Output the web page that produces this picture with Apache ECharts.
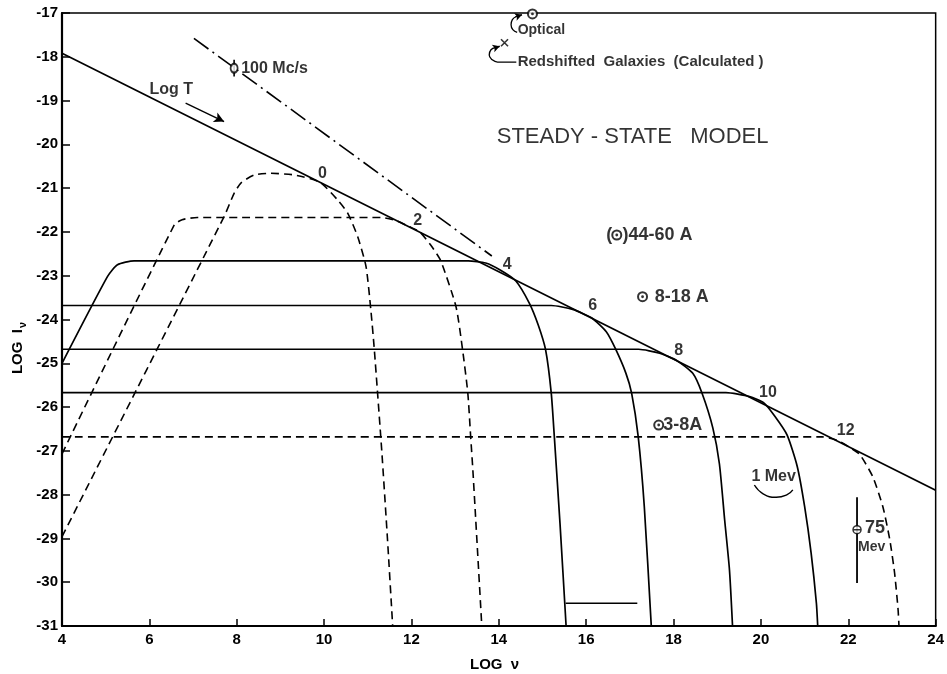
<!DOCTYPE html>
<html><head><meta charset="utf-8">
<script src="https://cdn.jsdelivr.net/npm/echarts@6/dist/echarts.min.js"></script>
<style>html,body{margin:0;padding:0;background:#fff}#c{width:947px;height:674px}</style>
</head><body><div id="c"></div>
<script>
// ---- axis ticks ----
const xTicks = [4,6,8,10,12,14,16,18,20,22,24];
const yTicks = [-31,-30,-29,-28,-27,-26,-25,-24,-23,-22,-21,-20,-19,-18,-17];
const xAxisTitle = 'LOG  ν';
const yAxisTitle = ['LOG  I', 'ν'];

// ---- lines ----
const envelopeLogT = [[4,-17.92],[24,-27.9]];
const radioLine100 = [[7.02,-17.58],[13.84,-22.55]];

const curve0 = [[4,-28.96],[7.71,-21.65],[7.94,-21.12],[8.1,-20.88],[8.4,-20.70],[8.78,-20.66],[9.32,-20.70],[9.9,-20.86],[10.31,-21.27],[10.54,-21.57],[10.77,-22.11],[10.96,-22.79],[11.07,-23.78],[11.15,-24.69],[11.32,-27.0],[11.45,-29.0],[11.57,-31]];
const curve2 = [[4,-27.07],[6.57,-21.84],[6.75,-21.72],[7.10,-21.67],[11.3,-21.67],[11.64,-21.74],[11.95,-21.88],[12.18,-21.99],[12.44,-22.30],[12.67,-22.66],[13.02,-23.71],[13.17,-24.69],[13.29,-25.68],[13.355,-26.67],[13.41,-27.51],[13.61,-31]];
const curve4 = [[4,-25.0],[5.04,-23.02],[5.27,-22.75],[5.65,-22.66],[13.3,-22.66],[13.7,-22.71],[14.05,-22.88],[14.39,-23.12],[14.70,-23.63],[14.90,-24.12],[15.07,-24.69],[15.20,-25.68],[15.27,-26.67],[15.40,-28.65],[15.54,-31]];
const curve6 = [[4,-23.68],[15.2,-23.68],[15.69,-23.77],[16.12,-23.96],[16.46,-24.28],[16.68,-24.69],[16.91,-25.23],[17.04,-25.68],[17.19,-26.67],[17.33,-28.27],[17.49,-31]];
const curve8 = [[4,-24.68],[17.2,-24.68],[17.68,-24.77],[18.08,-24.94],[18.44,-25.23],[18.65,-25.68],[18.90,-26.48],[19.05,-27.3],[19.17,-28.58],[19.28,-29.72],[19.35,-31]];
const curve10 = [[4,-25.67],[19.2,-25.67],[19.74,-25.76],[20.06,-25.90],[20.31,-26.20],[20.6,-26.64],[20.83,-27.35],[21.00,-28.27],[21.15,-29.34],[21.27,-30.48],[21.30,-31]];
const curve12 = [[4,-26.68],[21.4,-26.68],[21.75,-26.76],[22.03,-26.92],[22.26,-27.08],[22.56,-27.59],[22.79,-28.27],[22.95,-29.03],[23.06,-29.79],[23.14,-30.63],[23.16,-31]];

const bottomSegment = [[15.53,-30.48],[17.17,-30.48]];
const mevBracket = [[19.85,-27.78],[20.05,-27.98],[20.35,-28.06],[20.6,-28.0],[20.73,-27.89]];
const errorBar100 = [[7.94,-18.07],[7.94,-18.45]];
const errorBar75 = [[22.20,-28.06],[22.20,-30.02]];
const opticalHook = [[14.42,-17.44],[14.32,-17.38],[14.28,-17.27],[14.31,-17.15],[14.40,-17.08]];
const galaxyHook = [[14.40,-18.12],[13.97,-18.12],[13.84,-18.06],[13.78,-17.96],[13.82,-17.84],[13.92,-17.79]];

// ---- observed points ----
const dotCircles = [[16.70,-22.07],[17.29,-23.48],[17.66,-26.41],[14.77,-17.02]];
const point100 = [[7.94,-18.26]];
const point75 = [[22.20,-28.80]];
const galaxyCross = [[14.13,-17.68]];

// ---- arrows ----
const logTArrow = [[6.83,-19.06],[7.71,-19.48]];
const opticalArrowHead = [[14.38,-17.09],[14.53,-17.04]];
const galaxyArrowHead = [[13.90,-17.80],[14.02,-17.76]];

// ---- texts ----
const curveLabels = [[9.96,-20.66,'0'],[12.14,-21.73,'2'],[14.19,-22.75,'4'],[16.15,-23.69,'6'],[18.12,-24.72,'8'],[20.16,-25.66,'10'],[21.94,-26.54,'12']];
const titleText = [[13.94,-19.82,'STEADY - STATE   MODEL']];
const notesBig = [[16.45,-22.07,'('],[16.82,-22.07,')44-60 A'],[17.56,-23.48,'8-18 A'],[17.75,-26.41,'3-8A'],[22.37,-28.76,'75']];
const notesMid = [[5.99,-18.76,'Log T'],[8.09,-18.26,'100 Mc/s'],[19.77,-27.59,'1 Mev']];
const notesSmall = [[14.42,-17.40,'Optical'],[22.21,-29.19,'Mev']];
const notesWide = [[14.42,-18.11,'Redshifted  Galaxies  (Calculated )']];

const FONT = 'Liberation Sans, Arial, sans-serif';
const K = '#000';

function lineSeries(data, type, width, smooth) {
  return {type:'line', data, showSymbol:false, symbol:'none', silent:true,
    smooth: smooth || false, animation:false, clip:false,
    lineStyle:{color:K, width: width || 1.6, type: type || 'solid'}, z:3};
}
function textSeries(items, size, weight, pos) {
  return {type:'scatter', silent:true, animation:false, symbolSize:1, clip:false,
    itemStyle:{color:'transparent'}, z:5,
    data: items.map(d => ({value:[d[0],d[1]], name:d[2]})),
    label:{show:true, formatter:'{b}', position:pos, distance:0,
      color:K, fontFamily:FONT, fontSize:size, fontWeight:weight}};
}
function arrowMark(pts, size) {
  return {type:'line', data:[], silent:true, animation:false,
    markLine:{silent:true, animation:false, symbol:['none','arrow'], symbolSize:size || [8,10],
      label:{show:false},
      lineStyle:{color:K, width:1.4, type:'solid'},
      data:[[{coord:pts[0]},{coord:pts[1]}]]}};
}

const chart = echarts.init(document.getElementById('c'), null, {renderer:'canvas'});
chart.setOption({
  animation:false,
  backgroundColor:'#fff',
  grid:{left:62, right:11, top:13, bottom:48, show:true, borderColor:K, borderWidth:1.5, containLabel:false},
  xAxis:{type:'value', min:xTicks[0], max:xTicks[xTicks.length-1], interval:xTicks[1]-xTicks[0],
    axisLine:{lineStyle:{color:K, width:2.2}},
    axisTick:{inside:true, length:7, lineStyle:{color:K, width:1.5}},
    axisLabel:{color:K, fontFamily:FONT, fontSize:15, fontWeight:'bold', margin:6},
    splitLine:{show:false}},
  yAxis:{type:'value', min:yTicks[0], max:yTicks[yTicks.length-1], interval:yTicks[1]-yTicks[0],
    axisLine:{lineStyle:{color:K, width:2.2}},
    axisTick:{inside:true, length:8, lineStyle:{color:K, width:1.5}},
    axisLabel:{color:K, fontFamily:FONT, fontSize:15, fontWeight:'bold', margin:4},
    splitLine:{show:false}},
  graphic:[
    {type:'text', left:470, top:657, silent:true,
      style:{text:xAxisTitle, fill:K, font:'bold 15px ' + FONT}},
    {type:'text', x:18, y:348, rotation:Math.PI/2, silent:true,
      style:{text:yAxisTitle[0] + '{s|' + yAxisTitle[1] + '}', fill:K, font:'bold 15px ' + FONT,
        align:'center', verticalAlign:'middle',
        rich:{s:{font:'bold 11px ' + FONT, fill:K, padding:[9,0,0,1]}}}}
  ],
  series:[
    lineSeries(envelopeLogT, 'solid', 1.7),
    lineSeries(radioLine100, [18,5,2,5], 1.6),
    lineSeries(curve0, [8,5], 1.6, 0.2),
    lineSeries(curve2, [8,5], 1.6, 0.2),
    lineSeries(curve4, 'solid', 1.7, 0.2),
    lineSeries(curve6, 'solid', 1.7, 0.2),
    lineSeries(curve8, 'solid', 1.7, 0.2),
    lineSeries(curve10, 'solid', 1.7, 0.2),
    lineSeries(curve12, [8,5], 1.6, 0.2),
    lineSeries(bottomSegment, 'solid', 1.6),
    lineSeries(mevBracket, 'solid', 1.4, 0.5),
    lineSeries(errorBar100, 'solid', 1.6),
    lineSeries(errorBar75, 'solid', 1.8),
    lineSeries(opticalHook, 'solid', 1.3, 0.5),
    lineSeries(galaxyHook, 'solid', 1.3, 0.5),
    {type:'scatter', data:dotCircles, symbol:'emptyCircle', symbolSize:9, silent:true, z:6, clip:false,
      itemStyle:{color:K, borderWidth:1.5}},
    {type:'scatter', data:dotCircles, symbol:'circle', symbolSize:2.8, silent:true, z:7, clip:false,
      itemStyle:{color:K}},
    {type:'scatter', data:point100, symbol:'emptyCircle', symbolSize:[7,9], silent:true, z:6,
      itemStyle:{color:K, borderWidth:1.5}},
    {type:'scatter', data:point75, symbol:'path://M0,5A5,5 0 1 1 10,5A5,5 0 1 1 0,5ZM0,5L10,5', symbolSize:8, silent:true, z:6,
      itemStyle:{color:'#fff', borderColor:K, borderWidth:1.5}},
    {type:'scatter', data:galaxyCross, symbol:'path://M0,0L10,10M10,0L0,10', symbolSize:7, silent:true, z:6,
      itemStyle:{color:'transparent', borderColor:K, borderWidth:1.6}},
    arrowMark(logTArrow, [8,10]),
    arrowMark(opticalArrowHead, [6,7]),
    arrowMark(galaxyArrowHead, [6,7]),
    textSeries(curveLabels, 16, 'bold', 'inside'),
    textSeries(titleText, 22, 'normal', 'right'),
    textSeries(notesBig, 18, 'bold', 'right'),
    textSeries(notesMid, 16, 'bold', 'right'),
    textSeries(notesSmall, 14, 'bold', 'right'),
    textSeries(notesWide, 15, 'bold', 'right')
  ]
});
</script></body></html>
